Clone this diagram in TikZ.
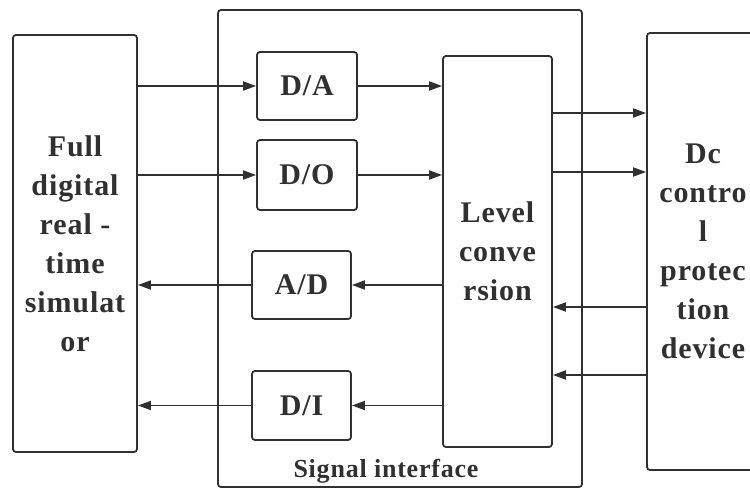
\documentclass[tikz,border=0pt]{standalone}
\usepackage{fontspec}
\setmainfont{Liberation Serif}[LetterSpace=3]
\usetikzlibrary{arrows.meta}
\definecolor{ink}{HTML}{303030}
\tikzset{
  box/.style={draw=ink, line width=1.8pt, rounded corners=3pt, text=ink,
    font=\fontsize{30}{39}\selectfont\bfseries, align=center, inner sep=0pt},
  arr/.style={draw=ink, line width=1.8pt, -{Triangle[length=13pt,width=9pt]}},
  lbl/.style={text=ink, font=\fontsize{26}{30}\selectfont\bfseries, inner sep=0pt}
}
\begin{document}
\begin{tikzpicture}[x=1pt,y=-1pt]
\useasboundingbox (0,0) rectangle (750,489);
\clip (0,0) rectangle (750,489);
% outer boxes
\node[box, minimum width=364pt, minimum height=477pt] (sig) at (400,248.5) {};
\node[box, minimum width=124pt, minimum height=417pt] (sim) at (75,243.5)
  {Full\\digital\\real -\\time\\simulat\\or};
\node[box, minimum width=112pt, minimum height=437pt] (dc) at (703,251.5)
  {Dc\\contro\\l\\protec\\tion\\device};
% inner boxes
\node[box, minimum width=100pt, minimum height=68pt] (da) at (307,86) {D/A};
\node[box, minimum width=100pt, minimum height=70pt] (do) at (307,175) {D/O};
\node[box, minimum width=99pt, minimum height=68pt] (ad) at (301.5,285) {A/D};
\node[box, minimum width=99pt, minimum height=69pt] (di) at (301.5,405.5) {D/I};
\node[box, minimum width=109pt, minimum height=391pt] (lv) at (497.5,251.5)
  {Level\\conve\\rsion};
\node[lbl, anchor=base] (siglbl) at (386,477) {Signal interface};
% helper coordinates for arrow heights
\coordinate (r1) at (600,113);
\coordinate (r2) at (600,172);
\coordinate (r3) at (600,307);
\coordinate (r4) at (600,375);
% arrows
\draw[arr] (sim.east |- da) -- (da.west);
\draw[arr] (sim.east |- do) -- (do.west);
\draw[arr] (da.east) -- (lv.west |- da);
\draw[arr] (do.east) -- (lv.west |- do);
\draw[arr] (lv.west |- ad) -- (ad.east);
\draw[arr] (lv.west |- di) -- (di.east);
\draw[arr] (ad.west) -- (sim.east |- ad);
\draw[arr] (di.west) -- (sim.east |- di);
\draw[arr] (lv.east |- r1) -- (dc.west |- r1);
\draw[arr] (lv.east |- r2) -- (dc.west |- r2);
\draw[arr] (dc.west |- r3) -- (lv.east |- r3);
\draw[arr] (dc.west |- r4) -- (lv.east |- r4);
\end{tikzpicture}
\end{document}
